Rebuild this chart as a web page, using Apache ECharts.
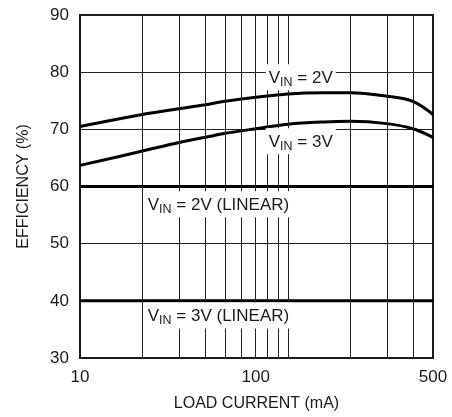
<!DOCTYPE html>
<html>
<head>
<meta charset="utf-8">
<script src="https://cdn.jsdelivr.net/npm/echarts@6/dist/echarts.min.js"></script>
<style>
  html, body { margin: 0; padding: 0; background: #fff; }
  #chart { width: 452px; height: 417px; }
</style>
</head>
<body>
<div id="chart"></div>
<script>
// Efficiency vs. load current, switching and linear regulation
const loadCurrent = [10, 20, 30, 40, 50, 70, 100, 150, 200, 300, 400, 500];
const eff2V = [70.5, 72.6, 73.6, 74.3, 74.9, 75.6, 76.2, 76.4, 76.4, 75.8, 74.9, 72.6];
const eff3V = [63.7, 66.2, 67.7, 68.6, 69.3, 70.1, 70.9, 71.3, 71.4, 71.0, 70.1, 68.6];
const linearCurrent = [10, 500];
const effLinear2V = [60, 60];
const effLinear3V = [40, 40];
const xTickLabels = [10, 100, 500];
const gridCurrents = [20, 30, 40, 50, 60, 70, 80, 90, 100, 200, 300, 400];

const FONT = '"Liberation Sans", Arial, Helvetica, sans-serif';
const INK = '#1a1a1a';

const pairs = (xs, ys) => xs.map((x, i) => [x, ys[i]]);

// Rich label "V_IN = ..." with subscript
const richStyles = {
  v: { fontFamily: FONT, fontSize: 17, color: INK },
  s: { fontFamily: FONT, fontSize: 12.5, color: INK, padding: [9, 0, 0, 0] }
};
function vinLabel(rest) {
  return '{v|V}{s|IN}{v| = ' + rest + '}';
}
function tag(coord, rest) {
  return {
    coord: coord,
    symbol: 'circle',
    symbolSize: 1,
    itemStyle: { color: 'rgba(0,0,0,0)' },
    label: {
      show: true,
      position: 'inside',
      formatter: vinLabel(rest),
      rich: richStyles,
      backgroundColor: '#fff',
      padding: [3, 3, 1, 3]
    }
  };
}

const chart = echarts.init(document.getElementById('chart'), null, { renderer: 'canvas' });

chart.setOption({
  animation: false,
  backgroundColor: '#fff',
  grid: { left: 80, right: 19, top: 15, bottom: 52, show: true, borderColor: INK, borderWidth: 2 },
  xAxis: {
    type: 'log',
    logBase: 10,
    min: 10,
    max: 500,
    name: 'LOAD CURRENT (mA)',
    nameLocation: 'middle',
    nameGap: 38,
    nameTextStyle: { fontFamily: FONT, fontSize: 16, color: INK },
    axisLine: { lineStyle: { color: INK, width: 2 } },
    axisTick: { show: false },
    splitLine: { show: false },
    axisLabel: {
      margin: 11,
      showMinLabel: true,
      showMaxLabel: true,
      fontFamily: FONT,
      fontSize: 17,
      color: INK,
      formatter: function (val) {
        const v = Math.round(val);
        if (xTickLabels.indexOf(v) < 0) return '';
        return v === 100 ? '{shift|' + v + '}' : String(v);
      },
      rich: { shift: { fontFamily: FONT, fontSize: 17, color: INK, padding: [0, 64, 0, 0] } }
    }
  },
  yAxis: {
    type: 'value',
    min: 30,
    max: 90,
    interval: 10,
    name: 'EFFICIENCY (%)',
    nameLocation: 'middle',
    nameGap: 48,
    nameTextStyle: { fontFamily: FONT, fontSize: 16, color: INK },
    axisLine: { show: true, lineStyle: { color: INK, width: 2 } },
    axisTick: { show: false },
    axisLabel: { margin: 11, fontFamily: FONT, fontSize: 17, color: INK },
    splitLine: { show: true, lineStyle: { color: '#222', width: 1 } }
  },
  series: [
    {
      name: 'grid',
      type: 'line',
      data: [],
      z: 1,
      markLine: {
        silent: true,
        symbol: 'none',
        label: { show: false },
        lineStyle: { color: '#222', width: 1, type: 'solid' },
        data: gridCurrents.map(c => ({ xAxis: c }))
      }
    },
    {
      name: 'VIN = 2V',
      type: 'line',
      smooth: 0.35,
      showSymbol: false,
      z: 3,
      lineStyle: { color: '#000', width: 3 },
      data: pairs(loadCurrent, eff2V)
    },
    {
      name: 'VIN = 3V',
      type: 'line',
      smooth: 0.35,
      showSymbol: false,
      z: 3,
      lineStyle: { color: '#000', width: 3 },
      data: pairs(loadCurrent, eff3V)
    },
    {
      name: 'VIN = 2V (LINEAR)',
      type: 'line',
      showSymbol: false,
      z: 3,
      lineStyle: { color: '#000', width: 3 },
      data: pairs(linearCurrent, effLinear2V)
    },
    {
      name: 'VIN = 3V (LINEAR)',
      type: 'line',
      showSymbol: false,
      z: 3,
      lineStyle: { color: '#000', width: 3 },
      data: pairs(linearCurrent, effLinear3V)
    },
    {
      name: 'tags',
      type: 'line',
      data: [],
      z: 10,
      markPoint: {
        z: 10,
        silent: true,
        data: [
          tag([115.5, 79.1], '2V'),
          tag([115.5, 67.9], '3V'),
          tag([46.4, 56.9], '2V (LINEAR)'),
          tag([46.4, 37.45], '3V (LINEAR)')
        ]
      }
    }
  ]
});
</script>
</body>
</html>
